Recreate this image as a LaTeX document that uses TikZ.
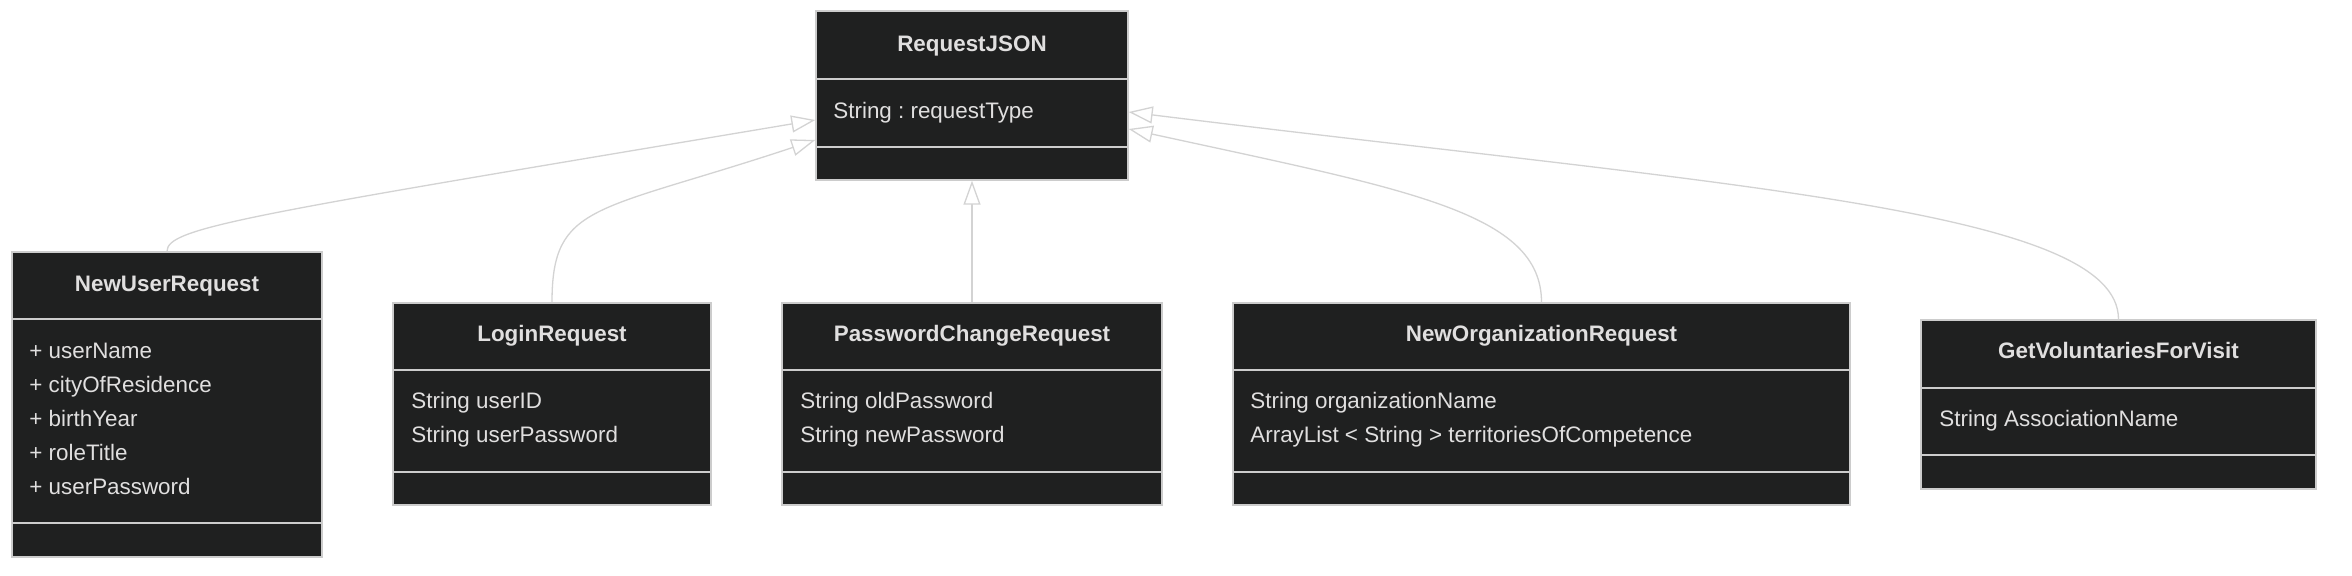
\documentclass[tikz,border=0pt]{standalone}
\usepackage{fontspec}
\setmainfont{Liberation Sans}
\frenchspacing
\usetikzlibrary{arrows.meta,fit}
\definecolor{boxfill}{HTML}{1F2020}
\definecolor{boxline}{HTML}{CCCCCC}
\definecolor{txt}{HTML}{E0DFDF}
\definecolor{conn}{HTML}{D3D3D3}
\begin{document}
\begin{tikzpicture}[x=0.5pt,y=-0.5pt,
  cls/.style={draw=boxline, fill=boxfill, line width=0.7pt, inner sep=0pt, rectangle},
  divl/.style={draw=boxline, line width=0.6pt},
  ttl/.style={text=txt, font=\fontsize{11.2}{13}\selectfont\bfseries, inner sep=0pt, anchor=base},
  attr/.style={text=txt, font=\fontsize{11.2}{13}\selectfont, anchor=base west, inner sep=0pt},
  inh/.style={draw=conn, line width=0.65pt, -{Triangle[open, length=12pt, width=8.5pt, fill=white]}}
]
\useasboundingbox[fill=white] (0,0) rectangle (2352,576);

% RequestJSON
\node[cls, fit={(816,11)(1128,180)}] (rj) {};
\draw[divl] (rj.west |- 0,79) -- (rj.east |- 0,79);
\draw[divl] (rj.west |- 0,147) -- (rj.east |- 0,147);
\node[ttl] (rjt) at (972,52) {RequestJSON};
\node[attr] (rja1) at (833,119) {String : requestType};

% NewUserRequest
\node[cls, fit={(12,252)(322,557)}] (nur) {};
\draw[divl] (nur.west |- 0,319) -- (nur.east |- 0,319);
\draw[divl] (nur.west |- 0,523) -- (nur.east |- 0,523);
\node[ttl] (nurt) at (167,292) {NewUserRequest};
\node[attr] (nura1) at (29,359) {+ userName};
\node[attr] (nura2) at (29,393) {+ cityOfResidence};
\node[attr] (nura3) at (29,427) {+ birthYear};
\node[attr] (nura4) at (29,461) {+ roleTitle};
\node[attr] (nura5) at (29,495) {+ userPassword};

% LoginRequest
\node[cls, fit={(393,303)(711,505)}] (lr) {};
\draw[divl] (lr.west |- 0,370) -- (lr.east |- 0,370);
\draw[divl] (lr.west |- 0,472) -- (lr.east |- 0,472);
\node[ttl] (lrt) at (552,342) {LoginRequest};
\node[attr] (lra1) at (411,409) {String userID};
\node[attr] (lra2) at (411,443) {String userPassword};

% PasswordChangeRequest
\node[cls, fit={(782,303)(1162,505)}] (pcr) {};
\draw[divl] (pcr.west |- 0,370) -- (pcr.east |- 0,370);
\draw[divl] (pcr.west |- 0,472) -- (pcr.east |- 0,472);
\node[ttl] (pcrt) at (972,342) {PasswordChangeRequest};
\node[attr] (pcra1) at (800,409) {String oldPassword};
\node[attr] (pcra2) at (800,443) {String newPassword};

% NewOrganizationRequest
\node[cls, fit={(1233,303)(1850,505)}] (nor) {};
\draw[divl] (nor.west |- 0,370) -- (nor.east |- 0,370);
\draw[divl] (nor.west |- 0,472) -- (nor.east |- 0,472);
\node[ttl] (nort) at (1541.5,342) {NewOrganizationRequest};
\node[attr] (nora1) at (1250,409) {String organizationName};
\node[attr] (nora2) at (1250,443) {ArrayList < String > territoriesOfCompetence};

% GetVoluntariesForVisit
\node[cls, fit={(1921,320)(2316,489)}] (gv) {};
\draw[divl] (gv.west |- 0,388) -- (gv.east |- 0,388);
\draw[divl] (gv.west |- 0,455) -- (gv.east |- 0,455);
\node[ttl] (gvt) at (2118.5,359) {GetVoluntariesForVisit};
\node[attr] (gva1) at (1939,427) {String AssociationName};

% connection points on RequestJSON
\coordinate (rjw1) at (rj.west |- 0,120);
\coordinate (rjw2) at (rj.west |- 0,140);
\coordinate (rje1) at (rj.east |- 0,112);
\coordinate (rje2) at (rj.east |- 0,129);

% inheritance connectors
\draw[inh] (nur.north) .. controls +(0,-24) and +(-567,95) .. (rjw1);
\draw[inh] (lr.north) .. controls +(0,-100) and +(-220,73) .. (rjw2);
\draw[inh] (pcr.north) -- (rj.south);
\draw[inh] (nor.north) .. controls +(0,-90) and +(280,61) .. (rje2);
\draw[inh] (gv.north) .. controls +(0,-110) and +(600,74) .. (rje1);
\end{tikzpicture}
\end{document}
